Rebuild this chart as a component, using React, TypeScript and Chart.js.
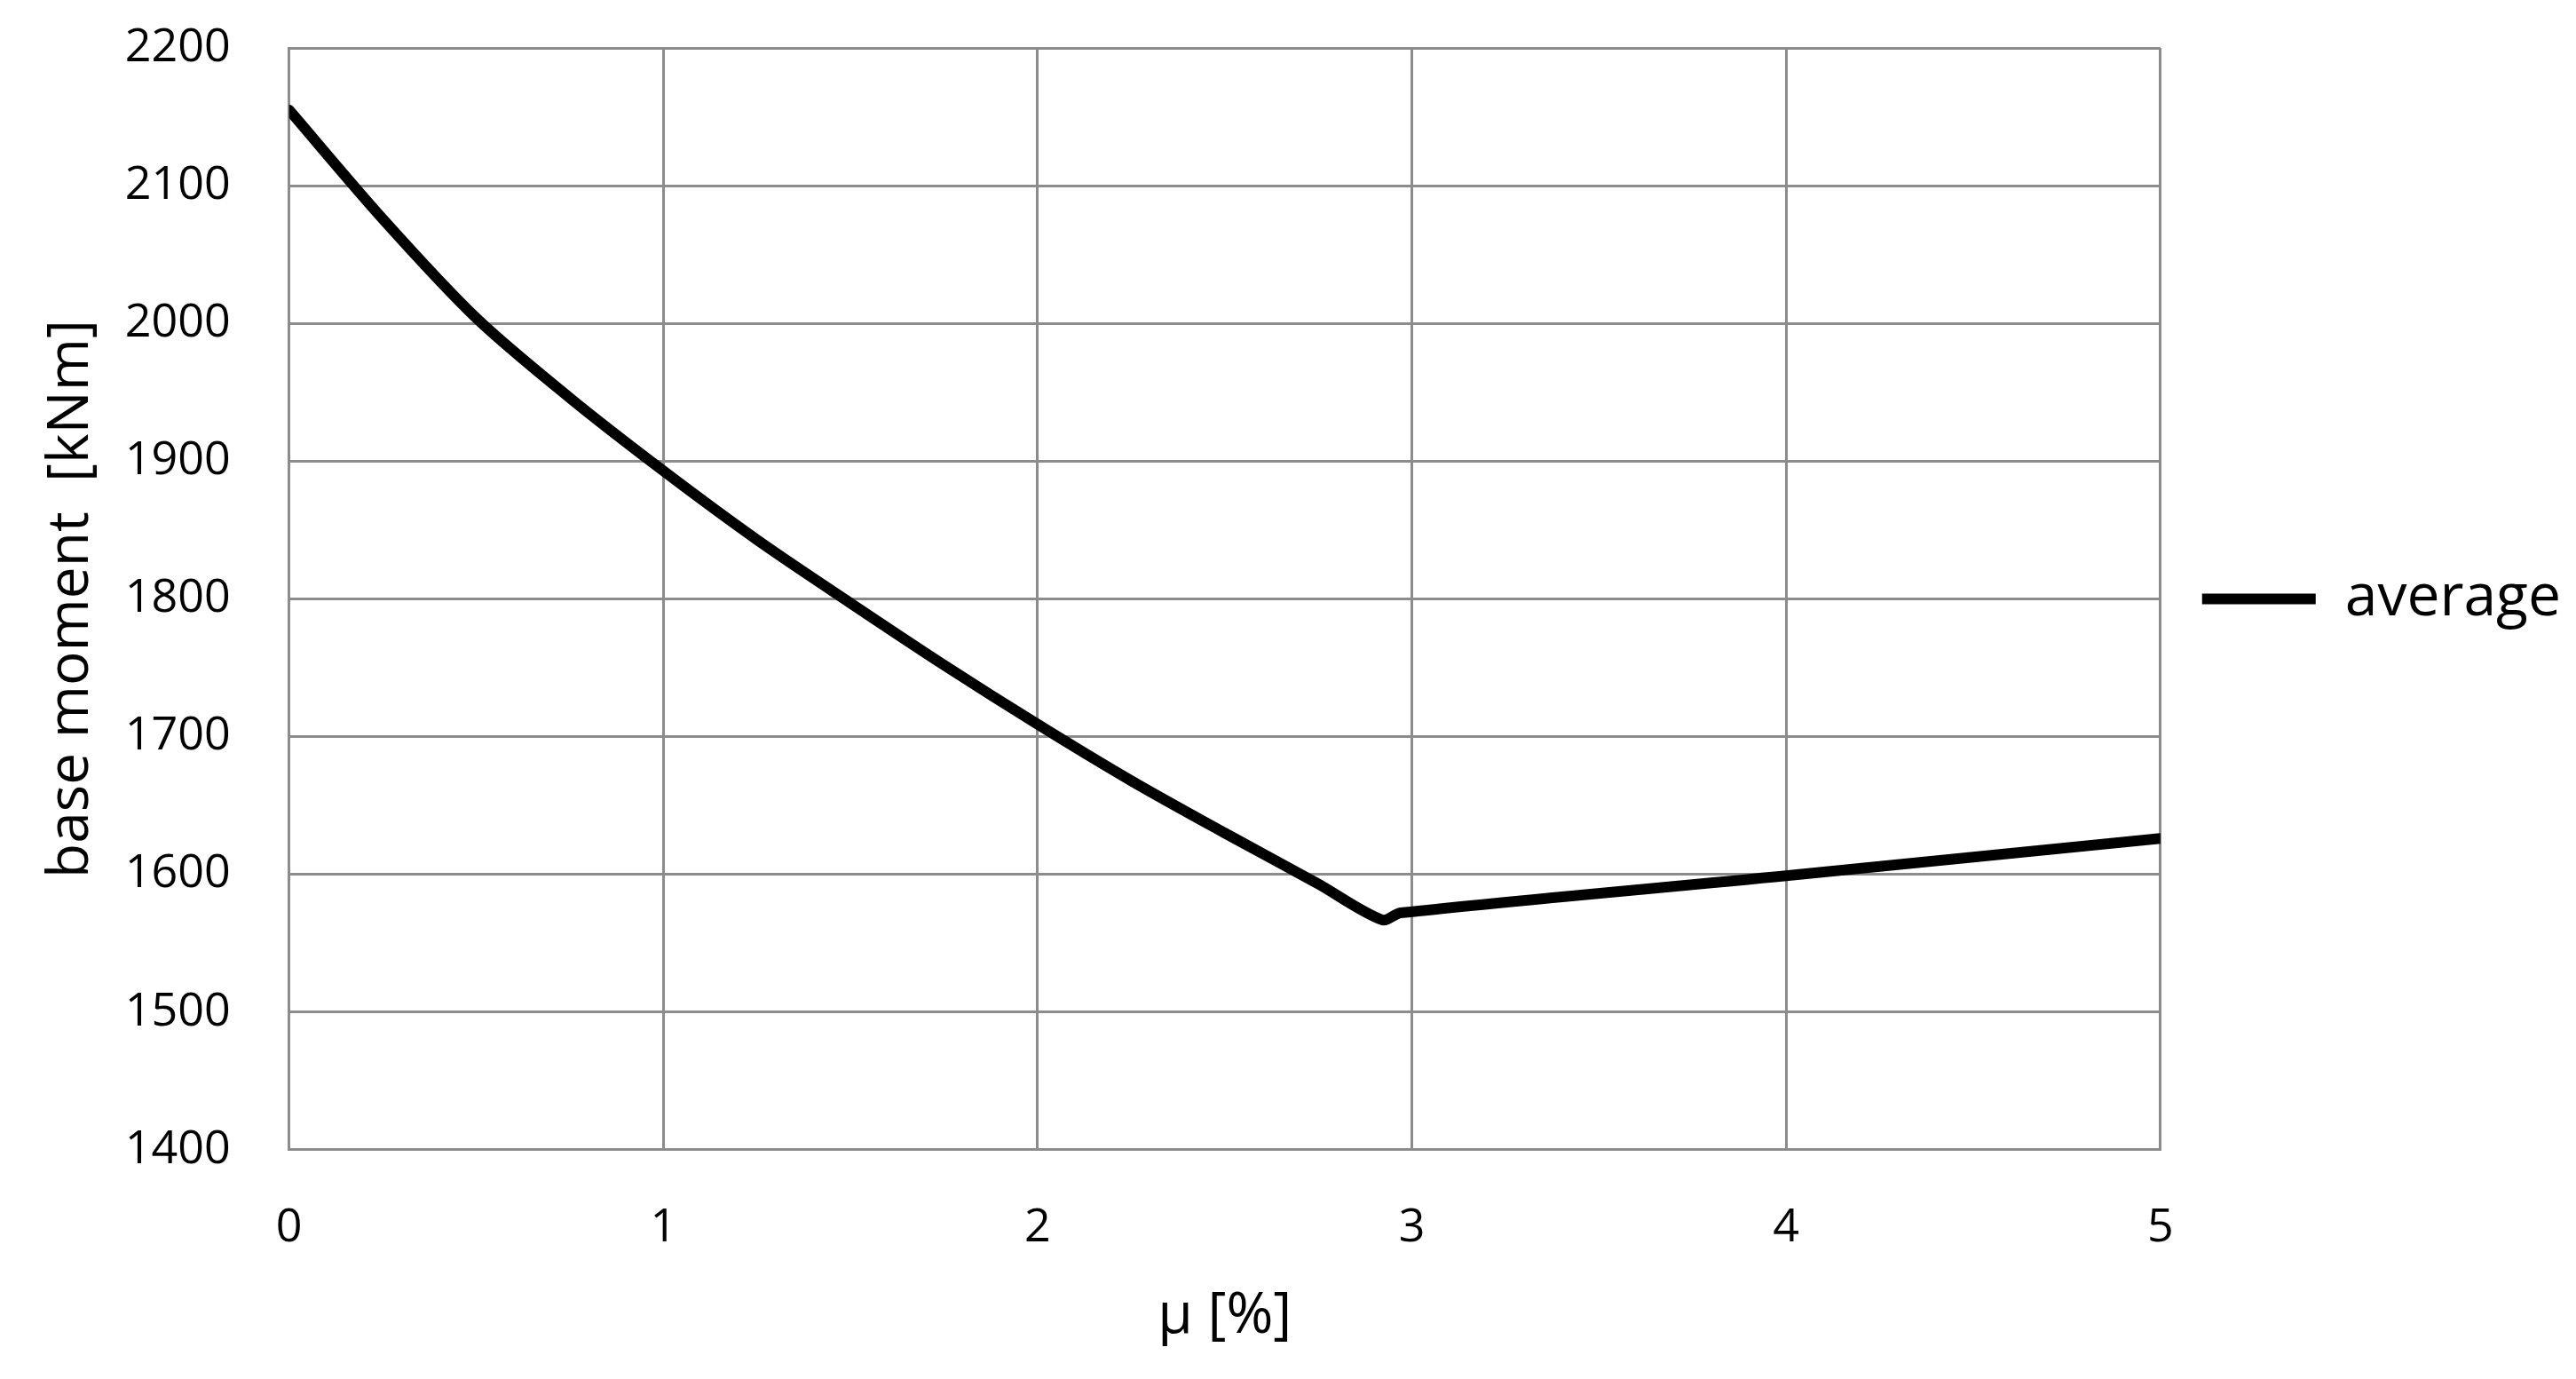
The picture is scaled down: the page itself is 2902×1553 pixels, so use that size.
import { useEffect, useRef } from "react";
import { Chart, registerables } from "chart.js";

Chart.register(...registerables);

// μ [%] values and the averaged base moment
const muValues = [0, 0.25, 0.5, 0.75, 1, 1.25, 1.5, 1.75, 2, 2.25, 2.5, 2.75, 2.92, 2.97, 4, 5];
const baseMoment = [2155, 2076, 2004, 1946, 1893, 1843, 1797, 1752, 1709, 1668, 1630, 1593, 1567, 1572, 1599, 1626];
const seriesLabel = "average";
const xTitle = "μ [%]";
const yTitle = "base moment  [kNm]";

const FONT = "'Open Sans', sans-serif";
const GRID = "#8c8c8c";

export default function App() {
  const canvasRef = useRef<HTMLCanvasElement | null>(null);

  useEffect(() => {
    if (!canvasRef.current) return;
    const chart = new Chart(canvasRef.current, {
      type: "line",
      data: {
        datasets: [
          {
            label: seriesLabel,
            data: muValues.map((x, i) => ({ x, y: baseMoment[i] })),
            borderColor: "#000000",
            backgroundColor: "#000000",
            borderWidth: 12,
            borderCapStyle: "round",
            borderJoinStyle: "round",
            pointRadius: 0,
            tension: 0.3,
          },
        ],
      },
      options: {
        animation: false,
        responsive: true,
        maintainAspectRatio: false,
        layout: { padding: { top: 0, left: 38, right: 7, bottom: 28 } },
        plugins: {
          tooltip: { enabled: false },
          legend: {
            position: "right",
            fullSize: false,
            labels: {
              usePointStyle: true,
              pointStyle: "line",
              pointStyleWidth: 128,
              padding: 47,
              color: "#000000",
              font: { family: FONT, size: 66 },
            },
          },
        },
        scales: {
          x: {
            type: "linear",
            min: 0,
            max: 5,
            ticks: {
              stepSize: 1,
              padding: 57,
              color: "#000000",
              font: { family: FONT, size: 52 },
            },
            grid: { color: GRID, lineWidth: 3, drawTicks: false },
            border: { color: GRID, width: 3 },
            title: {
              display: true,
              text: xTitle,
              color: "#000000",
              font: { family: FONT, size: 64 },
              padding: { top: -27, bottom: 4 },
            },
          },
          y: {
            min: 1400,
            max: 2200,
            ticks: {
              stepSize: 100,
              padding: 23,
              color: "#000000",
              font: { family: FONT, size: 52 },
              callback: (v) => String(v),
            },
            grid: {
              color: GRID,
              lineWidth: 3,
              drawTicks: true,
              tickLength: 43,
              tickColor: "rgba(0,0,0,0)",
            },
            border: { color: GRID, width: 3 },
            title: {
              display: true,
              text: yTitle,
              color: "#000000",
              font: { family: FONT, size: 64 },
              padding: { top: 4, bottom: -1 },
            },
          },
        },
      },
    });
    return () => chart.destroy();
  }, []);

  return (
    <div style={{ position: "fixed", left: 0, top: 0, width: 2902, height: 1553, background: "#ffffff" }}>
      <canvas ref={canvasRef} />
    </div>
  );
}
